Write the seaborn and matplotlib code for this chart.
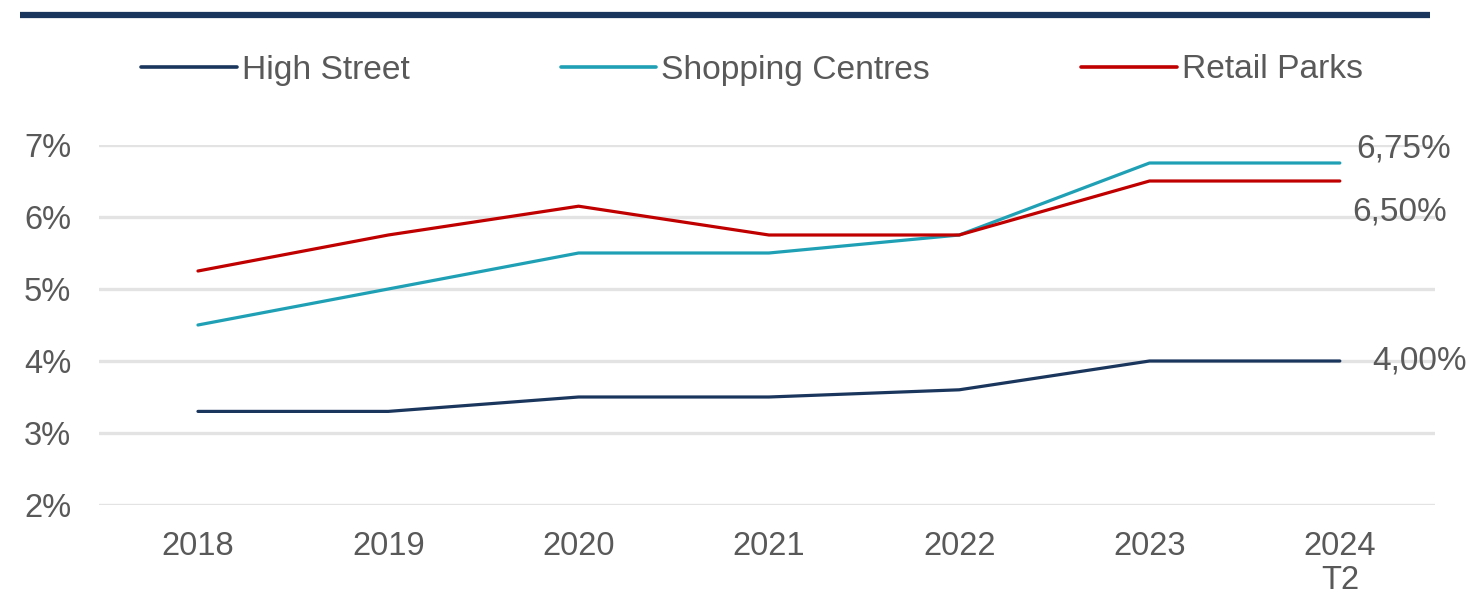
import matplotlib
matplotlib.use("Agg")
import matplotlib.pyplot as plt
from matplotlib.lines import Line2D
import seaborn as sns
import pandas as pd
import numpy as np

years = ["2018", "2019", "2020", "2021", "2022", "2023", "2024\nT2"]
high_street = [3.3, 3.3, 3.5, 3.5, 3.6, 4.0, 4.0]
shopping_centres = [4.5, 5.0, 5.5, 5.5, 5.75, 6.75, 6.75]
retail_parks = [5.25, 5.75, 6.15, 5.75, 5.75, 6.5, 6.5]
series_names = ["High Street", "Shopping Centres", "Retail Parks"]
y_ticks = [2, 3, 4, 5, 6, 7]

colors = {"High Street": "#1b365d", "Shopping Centres": "#1fa0b5", "Retail Parks": "#c00000"}

rows = []
for name, vals in zip(series_names, [high_street, shopping_centres, retail_parks]):
    for i, v in enumerate(vals):
        rows.append({"idx": i, "value": v, "series": name})
df = pd.DataFrame(rows)

sns.set_theme(style="white")
plt.rcParams["font.family"] = ["Liberation Sans", "DejaVu Sans"]

fig = plt.figure(figsize=(14.7, 5.96), dpi=100)
ax = fig.add_axes([99 / 1470, 1 - 505 / 596, (1435 - 99) / 1470, (505 - 145) / 596])

for y in y_ticks:
    ax.axhline(y, color="#e3e3e3", lw=2.4, zorder=0)

sns.lineplot(data=df, x="idx", y="value", hue="series", palette=colors,
             hue_order=series_names, linewidth=2.3, ax=ax, legend=False, zorder=3)

ax.set_xlim(-0.52, 6.5)
ax.set_ylim(2, 7)
ax.set_xticks(range(len(years)))
ax.set_xticklabels(years, linespacing=1.1)
ax.set_yticks(y_ticks)
ax.set_yticklabels([f"{t}%" for t in y_ticks])
ax.tick_params(axis="both", length=0, labelsize=23.5, labelcolor="#595959")
ax.tick_params(axis="y", pad=20)
ax.tick_params(axis="x", pad=19)
ax.set_xlabel("")
ax.set_ylabel("")
for s in ax.spines.values():
    s.set_visible(False)

# end labels
last = len(years) - 1
offsets = {"High Street": (23, 0), "Shopping Centres": (12, 10), "Retail Parks": (9, -22)}
for name, vals in zip(series_names, [high_street, shopping_centres, retail_parks]):
    v = vals[-1]
    lbl = f"{v:.2f}".replace(".", ",") + "%"
    ax.annotate(lbl, xy=(last, v), xytext=offsets[name], textcoords="offset points",
                ha="left", va="center", fontsize=24, color="#595959")

# legend
handles = [Line2D([0], [0], color=colors[n], lw=2.6) for n in series_names]
fig.legend(handles, series_names, loc="center", bbox_to_anchor=(752 / 1470, 1 - 70 / 596),
           ncol=3, frameon=False, fontsize=24.2, handlelength=2.85, handletextpad=0.15,
           columnspacing=4.5, labelcolor="#595959")

# top rule
fig.add_artist(Line2D([20 / 1470, 1430 / 1470], [1 - 15 / 596, 1 - 15 / 596],
                      color="#1b365d", lw=4.5, solid_capstyle="butt",
                      transform=fig.transFigure))

fig.savefig("out.png", dpi=100)
